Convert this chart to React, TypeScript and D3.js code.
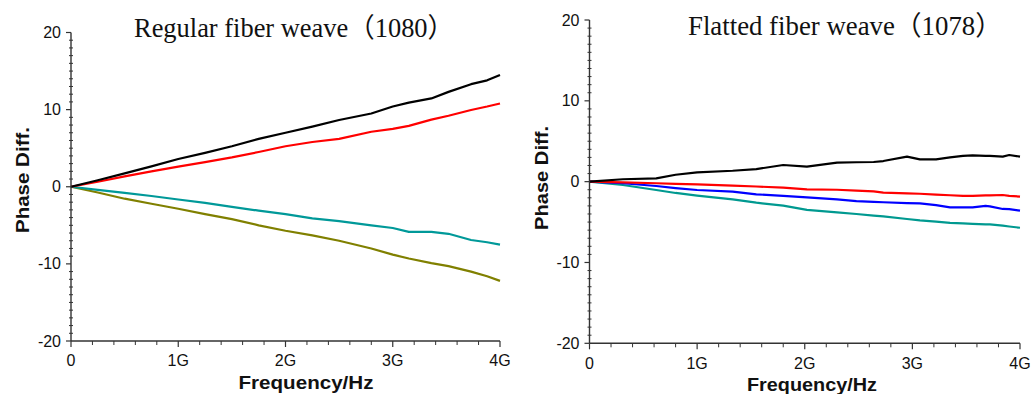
import React from "react";
import * as d3 from "d3";

// ---------- Data (frequency in GHz, phase difference) ----------
const leftFreq = [0, 0.25, 0.5, 0.75, 1, 1.25, 1.5, 1.75, 2, 2.25, 2.5, 2.8, 3, 3.15, 3.36, 3.52, 3.73, 3.88, 4];
const leftBlack = [0, 0.85, 1.73, 2.65, 3.6, 4.4, 5.25, 6.2, 7.0, 7.8, 8.65, 9.5, 10.4, 10.9, 11.45, 12.3, 13.3, 13.8, 14.5];
const leftRed = [0, 0.65, 1.35, 2.0, 2.6, 3.2, 3.8, 4.5, 5.25, 5.8, 6.2, 7.13, 7.5, 7.9, 8.7, 9.2, 9.95, 10.4, 10.8];
const leftTeal = [0, -0.4, -0.8, -1.2, -1.65, -2.1, -2.6, -3.1, -3.55, -4.1, -4.45, -5.0, -5.35, -5.85, -5.85, -6.1, -6.9, -7.2, -7.5];
const leftOlive = [0, -0.75, -1.55, -2.2, -2.85, -3.55, -4.2, -5.0, -5.7, -6.3, -7.0, -8.0, -8.8, -9.3, -9.9, -10.3, -11.0, -11.6, -12.2];

const rightFreq = [0, 0.31, 0.62, 0.8, 1.0, 1.33, 1.55, 1.8, 2.02, 2.3, 2.48, 2.64, 2.73, 2.95, 3.07, 3.22, 3.35, 3.47, 3.56, 3.68, 3.72, 3.84, 3.9, 4];
const rightBlack = [0, 0.3, 0.4, 0.85, 1.15, 1.35, 1.55, 2.06, 1.85, 2.35, 2.4, 2.43, 2.55, 3.1, 2.75, 2.75, 3.0, 3.2, 3.25, 3.2, 3.2, 3.1, 3.3, 3.1];
const rightRed = [0, -0.08, -0.2, -0.28, -0.33, -0.5, -0.6, -0.74, -0.95, -1.0, -1.1, -1.2, -1.36, -1.45, -1.5, -1.6, -1.68, -1.77, -1.77, -1.7, -1.7, -1.65, -1.75, -1.85];
const rightBlue = [0, -0.2, -0.54, -0.8, -1.03, -1.24, -1.57, -1.75, -1.94, -2.2, -2.4, -2.5, -2.55, -2.65, -2.68, -2.9, -3.18, -3.18, -3.18, -3.0, -3.05, -3.38, -3.4, -3.59];
const rightTeal = [0, -0.41, -1.03, -1.4, -1.73, -2.19, -2.6, -2.97, -3.5, -3.8, -4.0, -4.2, -4.3, -4.62, -4.8, -4.95, -5.1, -5.16, -5.22, -5.28, -5.28, -5.45, -5.55, -5.7];

const xTickValues = [0, 1, 2, 3, 4];
const xTickLabels = ["0", "1G", "2G", "3G", "4G"];
const yTickValues = [-20, -10, 0, 10, 20];
const yTickLabels = ["-20", "-10", "0", "10", "20"];

const leftTitle = "Regular fiber weave（1080）";
const rightTitle = "Flatted fiber weave（1078）";
const yLabel = "Phase Diff.";
const xLabel = "Frequency/Hz";

type Series = { values: number[]; color: string };

type PanelProps = {
  x0: number; x1: number; yTop: number; yBot: number;
  freq: number[]; series: Series[];
  title: string; titleX: number; titleY: number; titleLen: number;
  yLabelX: number; yLabelY: number; yLabelLen: number;
  xLabelX: number; xLabelY: number; xLabelLen: number;
  xTickY: number;
};

const AXIS = "#333";

function Panel(p: PanelProps) {
  const x = d3.scaleLinear().domain([0, 4]).range([p.x0, p.x1]);
  const y = d3.scaleLinear().domain([-20, 20]).range([p.yBot, p.yTop]);
  const line = d3.line<[number, number]>().x(d => x(d[0])).y(d => y(d[1]));
  const minorX = d3.range(0, 4.0001, 0.2).filter(v => Math.abs(v - Math.round(v)) > 1e-6);
  const minorY = d3.range(-20, 20.0001, 1).filter(v => v % 10 !== 0);
  return (
    <g>
      {p.series.map((s, i) => (
        <path key={i} d={line(p.freq.map((f, j) => [f, s.values[j]]) as [number, number][]) || ""}
          fill="none" stroke={s.color} strokeWidth={2.2} strokeLinejoin="round" />
      ))}
      {/* axes */}
      <line x1={p.x0} x2={p.x0} y1={p.yTop} y2={p.yBot} stroke={AXIS} strokeWidth={1.4} />
      <line x1={p.x0} x2={p.x1} y1={p.yBot} y2={p.yBot} stroke={AXIS} strokeWidth={1.4} />
      {minorY.map(v => (
        <line key={"my" + v} x1={p.x0 - 2} x2={p.x0 + 2} y1={y(v)} y2={y(v)} stroke={AXIS} strokeWidth={1} />
      ))}
      {yTickValues.map((v, i) => (
        <g key={"y" + v}>
          <line x1={p.x0 - 5} x2={p.x0} y1={y(v)} y2={y(v)} stroke={AXIS} strokeWidth={1.2} />
          <text x={p.x0 - 10} y={y(v)} dy="0.35em" textAnchor="end" fontFamily="Liberation Sans, Arial, sans-serif"
            fontSize={16} fill="#111">{yTickLabels[i]}</text>
        </g>
      ))}
      {minorX.map(v => (
        <line key={"mx" + v} x1={x(v)} x2={x(v)} y1={p.yBot} y2={p.yBot + 4} stroke={AXIS} strokeWidth={1} />
      ))}
      {xTickValues.map((v, i) => (
        <g key={"x" + v}>
          <line x1={x(v)} x2={x(v)} y1={p.yBot} y2={p.yBot + 6} stroke={AXIS} strokeWidth={1.2} />
          <text x={x(v)} y={p.xTickY} textAnchor="middle" fontFamily="Liberation Sans, Arial, sans-serif"
            fontSize={16} fill="#111">{xTickLabels[i]}</text>
        </g>
      ))}
      <text x={p.titleX} y={p.titleY} fontFamily="Liberation Serif, 'Times New Roman', 'Noto Sans CJK SC', serif"
        fontSize={27} fill="#111" textLength={p.titleLen} lengthAdjust="spacingAndGlyphs">{p.title}</text>
      <text transform={`translate(${p.yLabelX},${p.yLabelY}) rotate(-90)`} textAnchor="middle"
        fontFamily="Liberation Sans, Arial, sans-serif" fontWeight="bold" fontSize={19} fill="#111"
        textLength={p.yLabelLen} lengthAdjust="spacingAndGlyphs">{yLabel}</text>
      <text x={p.xLabelX} y={p.xLabelY} textAnchor="middle"
        fontFamily="Liberation Sans, Arial, sans-serif" fontWeight="bold" fontSize={18} fill="#111"
        textLength={p.xLabelLen} lengthAdjust="spacingAndGlyphs">{xLabel}</text>
    </g>
  );
}

export default function App() {
  return (
    <svg width={1035} height={394} style={{ position: "absolute", left: 0, top: 0, background: "#fff" }}>
      <rect width={1035} height={394} fill="#fff" />
      <Panel x0={71} x1={500} yTop={32.5} yBot={341}
        freq={leftFreq}
        series={[
          { values: leftOlive, color: "#808000" },
          { values: leftTeal, color: "#009999" },
          { values: leftRed, color: "#ff0000" },
          { values: leftBlack, color: "#000000" },
        ]}
        title={leftTitle} titleX={134} titleY={37} titleLen={320}
        yLabelX={29} yLabelY={180} yLabelLen={106}
        xLabelX={306} xLabelY={389} xLabelLen={135}
        xTickY={366} />
      <Panel x0={589.5} x1={1020} yTop={20} yBot={343.3}
        freq={rightFreq}
        series={[
          { values: rightTeal, color: "#009990" },
          { values: rightBlue, color: "#0000ff" },
          { values: rightRed, color: "#ff0000" },
          { values: rightBlack, color: "#000000" },
        ]}
        title={rightTitle} titleX={688} titleY={35} titleLen={314}
        yLabelX={548} yLabelY={178} yLabelLen={104}
        xLabelX={812} xLabelY={391} xLabelLen={130}
        xTickY={369} />
    </svg>
  );
}
